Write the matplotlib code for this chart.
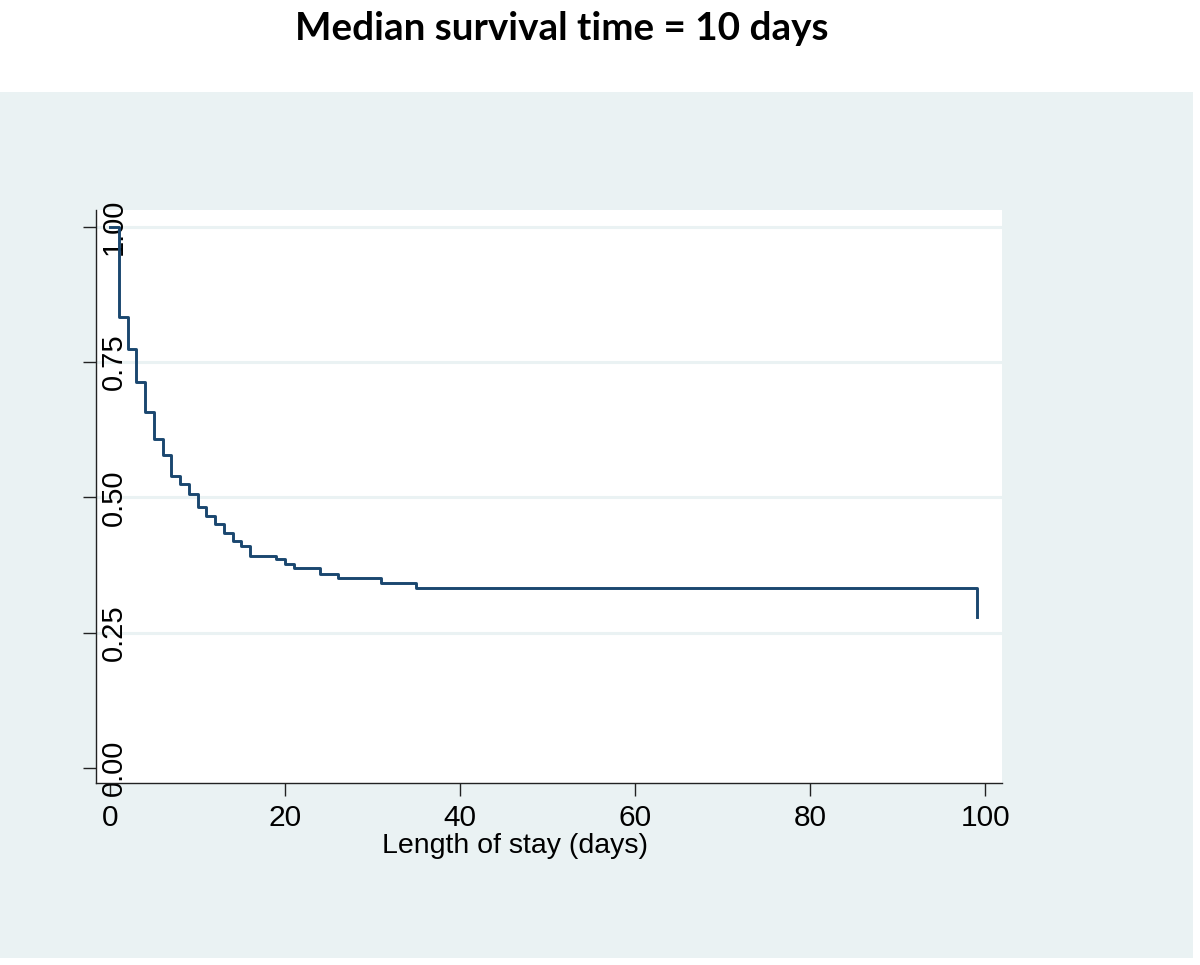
import matplotlib.pyplot as plt
from matplotlib.patches import Rectangle

# Kaplan-Meier estimate
days = [0, 1, 2, 3, 4, 5, 6, 7, 8, 9, 10, 11, 12, 13, 14, 15, 16,
        19, 20, 21, 24, 26, 31, 35, 99]
survival = [1.0, 0.833, 0.775, 0.713, 0.657, 0.607, 0.579, 0.539, 0.525,
            0.507, 0.483, 0.465, 0.451, 0.434, 0.419, 0.410, 0.391,
            0.386, 0.376, 0.369, 0.358, 0.350, 0.342, 0.332, 0.279]

x_ticks = [0, 20, 40, 60, 80, 100]
y_ticks = [0.0, 0.25, 0.5, 0.75, 1.0]
y_labels = ["0.00", "0.25", "0.50", "0.75", "1.00"]

title = "Median survival time = 10 days"
x_title = "Length of stay (days)"

W, H = 1200, 965
bg = "#eaf2f3"
navy = "#1a476f"

plt.rcParams["font.family"] = ["Liberation Sans", "DejaVu Sans"]

fig = plt.figure(figsize=(W / 100, H / 100), dpi=100, facecolor="white")

# light background panel below the white title band
fig.patches.append(Rectangle((0, 7 / H), 1193 / W, (H - 92 - 7) / H,
                             transform=fig.transFigure, facecolor=bg,
                             edgecolor="none", zorder=-10))

ax = fig.add_axes([96 / W, (H - 783) / H, (1002 - 96) / W, (783 - 210) / H])
ax.set_facecolor("white")

ax.step(days, survival, where="post", color=navy, linewidth=2.1, zorder=3)

ax.set_xlim(-1.6, 101.9)
ax.set_ylim(-0.028, 1.031)

ax.set_xticks(x_ticks)
ax.set_yticks(y_ticks)
ax.set_yticklabels(y_labels)

ax.grid(axis="y", color=bg, linewidth=2.2)
ax.get_ygridlines()[0].set_visible(False)
ax.set_axisbelow(True)

for side in ["top", "right"]:
    ax.spines[side].set_visible(False)
for side in ["left", "bottom"]:
    ax.spines[side].set_color("#222222")
    ax.spines[side].set_linewidth(1.0)

ax.tick_params(axis="x", length=9, width=1, color="#222222",
               labelsize=21.5, pad=6)
ax.tick_params(axis="y", length=9.4, width=1, color="#222222",
               labelsize=21, labelrotation=90, pad=-32.4)
for lab in ax.get_yticklabels():
    lab.set_va("center")

ax.set_xlabel(x_title, fontsize=20.5)
ax.xaxis.set_label_coords((515 - 96) / 906, -0.11)
ax.xaxis.label.set_va("center")

fig.text(562 / W, 1 - 28 / H, title, ha="center", va="center",
         fontsize=27.8, fontweight="bold", family=["Lato", "DejaVu Sans"])

fig.savefig("out.png", dpi=100, facecolor="white")
